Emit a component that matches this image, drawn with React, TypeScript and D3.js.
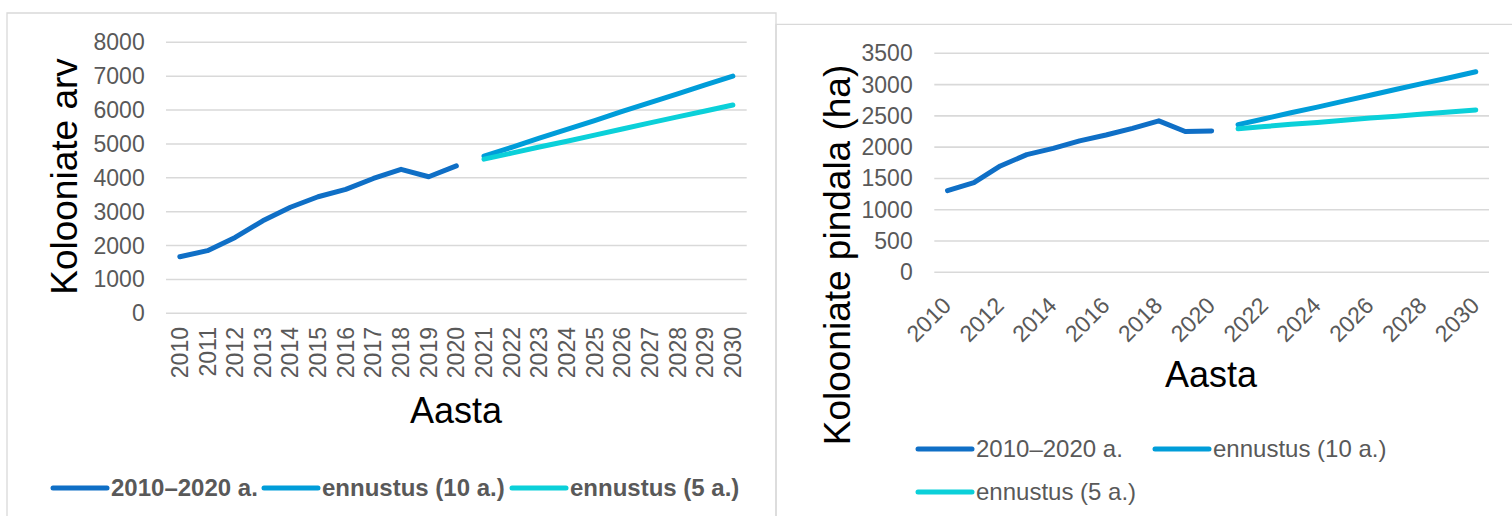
import React from "react";
import * as d3 from "d3";

// Categories: years on the x axis
const years = [
  2010, 2011, 2012, 2013, 2014, 2015, 2016, 2017, 2018, 2019, 2020,
  2021, 2022, 2023, 2024, 2025, 2026, 2027, 2028, 2029, 2030,
];
const histYears = [2010, 2011, 2012, 2013, 2014, 2015, 2016, 2017, 2018, 2019, 2020];
const forecastYears = [2021, 2022, 2023, 2024, 2025, 2026, 2027, 2028, 2029, 2030];

// Number of colonies
const countHist = [1670, 1850, 2240, 2730, 3130, 3440, 3660, 3980, 4250, 4030, 4350];
const countForecast10 = [4640, 4900, 5170, 5430, 5690, 5960, 6220, 6480, 6740, 7000];
const countForecast5 = [4550, 4730, 4910, 5080, 5260, 5440, 5620, 5800, 5970, 6150];
const countTicks = [0, 1000, 2000, 3000, 4000, 5000, 6000, 7000, 8000];

// Colony area (ha)
const areaHist = [1305, 1432, 1700, 1880, 1980, 2100, 2195, 2300, 2420, 2250, 2260];
const areaForecast10 = [2360, 2455, 2550, 2640, 2735, 2830, 2925, 3020, 3110, 3205];
const areaForecast5 = [2295, 2330, 2365, 2395, 2430, 2465, 2495, 2530, 2560, 2595];
const areaTicks = [0, 500, 1000, 1500, 2000, 2500, 3000, 3500];
const areaXTickYears = [2010, 2012, 2014, 2016, 2018, 2020, 2022, 2024, 2026, 2028, 2030];

const seriesNames = ["2010–2020 a.", "ennustus (10 a.)", "ennustus (5 a.)"];
const seriesColors = ["#0F6FC6", "#009DD9", "#0BD0D9"];

const FONT = "'Liberation Sans', Arial, sans-serif";
const GRID = "#d9d9d9";
const LABEL = "#595959";

type Pt = { year: number; value: number };
const zip = (ys: number[], vs: number[]): Pt[] => ys.map((y, i) => ({ year: y, value: vs[i] }));

function Series({ x, y, data, color }: { x: d3.ScalePoint<number>; y: d3.ScaleLinear<number, number>; data: Pt[]; color: string }) {
  const line = d3
    .line<Pt>()
    .x((d) => x(d.year) as number)
    .y((d) => y(d.value));
  return (
    <path
      d={line(data) || ""}
      fill="none"
      stroke={color}
      strokeWidth={5}
      strokeLinecap="round"
      strokeLinejoin="round"
    />
  );
}

function LegendItem({ x, y, color, label, bold }: { x: number; y: number; color: string; label: string; bold: boolean }) {
  return (
    <g>
      <line x1={x} x2={x + 54} y1={y} y2={y} stroke={color} strokeWidth={5} strokeLinecap="round" />
      <text
        x={x + 58}
        y={y}
        dy="0.35em"
        fontSize={24}
        fontWeight={bold ? "bold" : "normal"}
        fill={LABEL}
        fontFamily={FONT}
      >
        {label}
      </text>
    </g>
  );
}

function CountChart() {
  const x = d3.scalePoint<number>().domain(years).range([166, 746.7]).padding(0.5);
  const y = d3.scaleLinear().domain([0, 8000]).range([313.3, 42.3]);
  return (
    <g>
      {/* chart frame */}
      <path d="M7,516 V13 H776 V516" fill="none" stroke={GRID} strokeWidth={1.3} />
      {countTicks.map((t) => (
        <g key={t}>
          <line x1={166} x2={746.7} y1={y(t)} y2={y(t)} stroke={GRID} strokeWidth={1.6} />
          <text x={144.7} y={y(t)} dy="0.35em" textAnchor="end" fontSize={23} fill={LABEL} fontFamily={FONT}>
            {t}
          </text>
        </g>
      ))}
      {years.map((yr) => (
        <text
          key={yr}
          transform={`translate(${x(yr)},327) rotate(-90)`}
          dy="0.35em"
          textAnchor="end"
          fontSize={23}
          fill={LABEL}
          fontFamily={FONT}
        >
          {yr}
        </text>
      ))}
      <text
        transform="translate(77.3,176.5) rotate(-90)"
        textAnchor="middle"
        fontSize={37}
        fill="#000"
        fontFamily={FONT}
      >
        Kolooniate arv
      </text>
      <text x={456} y={423} textAnchor="middle" fontSize={36} fill="#000" fontFamily={FONT}>
        Aasta
      </text>
      <Series x={x} y={y} data={zip(histYears, countHist)} color={seriesColors[0]} />
      <Series x={x} y={y} data={zip(forecastYears, countForecast10)} color={seriesColors[1]} />
      <Series x={x} y={y} data={zip(forecastYears, countForecast5)} color={seriesColors[2]} />
      <LegendItem x={53} y={488} color={seriesColors[0]} label={seriesNames[0]} bold />
      <LegendItem x={264} y={488} color={seriesColors[1]} label={seriesNames[1]} bold />
      <LegendItem x={512} y={488} color={seriesColors[2]} label={seriesNames[2]} bold />
    </g>
  );
}

function AreaChart() {
  const x = d3.scalePoint<number>().domain(years).range([934.3, 1489]).padding(0.5);
  const y = d3.scaleLinear().domain([0, 3500]).range([272.3, 53.3]);
  return (
    <g>
      {/* chart frame */}
      <path d="M776,516 V24.3 H1512" fill="none" stroke={GRID} strokeWidth={1.3} />
      {areaTicks.map((t) => (
        <g key={t}>
          <line x1={934.3} x2={1489} y1={y(t)} y2={y(t)} stroke={GRID} strokeWidth={1.6} />
          <text x={912.7} y={y(t)} dy="0.35em" textAnchor="end" fontSize={23} fill={LABEL} fontFamily={FONT}>
            {t}
          </text>
        </g>
      ))}
      {areaXTickYears.map((yr) => (
        <text
          key={yr}
          transform={`translate(${(x(yr) as number) + 5},307) rotate(-45)`}
          textAnchor="end"
          fontSize={23}
          fill={LABEL}
          fontFamily={FONT}
        >
          {yr}
        </text>
      ))}
      <text
        transform="translate(850,255) rotate(-90)"
        textAnchor="middle"
        fontSize={37}
        fill="#000"
        fontFamily={FONT}
      >
        Kolooniate pindala (ha)
      </text>
      <text x={1211} y={387} textAnchor="middle" fontSize={36} fill="#000" fontFamily={FONT}>
        Aasta
      </text>
      <Series x={x} y={y} data={zip(histYears, areaHist)} color={seriesColors[0]} />
      <Series x={x} y={y} data={zip(forecastYears, areaForecast10)} color={seriesColors[1]} />
      <Series x={x} y={y} data={zip(forecastYears, areaForecast5)} color={seriesColors[2]} />
      <LegendItem x={918} y={449} color={seriesColors[0]} label={seriesNames[0]} bold={false} />
      <LegendItem x={1155} y={449} color={seriesColors[1]} label={seriesNames[1]} bold={false} />
      <LegendItem x={918} y={492} color={seriesColors[2]} label={seriesNames[2]} bold={false} />
    </g>
  );
}

export default function App() {
  return (
    <svg
      width={1512}
      height={516}
      viewBox="0 0 1512 516"
      style={{ position: "absolute", left: 0, top: 0, background: "#fff" }}
    >
      <rect x={0} y={0} width={1512} height={516} fill="#fff" />
      <CountChart />
      <AreaChart />
    </svg>
  );
}
